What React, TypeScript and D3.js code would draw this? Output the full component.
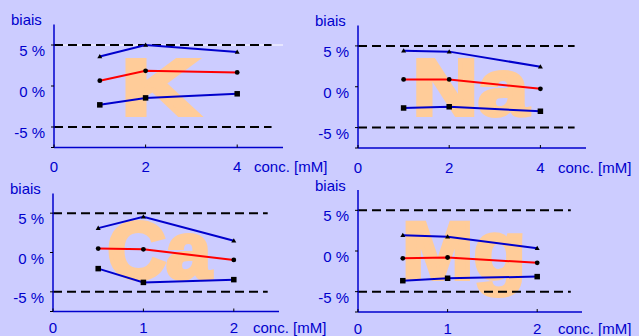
import React from "react";
import { scaleLinear, line } from "d3";

// concentrations (mM)
const concHigh = [1, 2, 4];
const concLow = [0.5, 1, 2];

// biais (%) : borne haute, moyenne, borne basse
const kUpper = [3.6, 5.0, 4.15];
const kMean = [0.65, 1.85, 1.65];
const kLower = [-2.3, -1.45, -0.95];

const naUpper = [4.4, 4.3, 2.45];
const naMean = [0.9, 0.9, -0.25];
const naLower = [-2.6, -2.45, -3.0];

const caUpper = [3.1, 4.55, 1.5];
const caMean = [0.5, 0.4, -0.95];
const caLower = [-2.05, -3.8, -3.45];

const mgUpper = [1.95, 1.75, 0.35];
const mgMean = [-0.9, -0.8, -1.45];
const mgLower = [-3.65, -3.35, -3.15];

const yTicks = [-5, 0, 5];
const limits = [-5, 5];
const xTicksHigh = [0, 2, 4];
const xTicksLow = [0, 1, 2];

const BG = "#CCCCFF";
const BLUE = "#0000CC";
const RED = "#FF0000";
const LETTER = "#FFCC99";
const FONT = "Liberation Sans, Arial, sans-serif";

type PanelProps = {
  ion: string;
  conc: number[];
  upper: number[];
  mean: number[];
  lower: number[];
  xMax: number;
  xTicks: number[];
  box: { left: number; right: number; top: number; bottom: number };
  labelDy: number;
  letterX: number;
  letterY: number;
  letterW: number;
  letterSize: number;
  whiteLine?: boolean;
};

const Panel = ({
  ion,
  conc,
  upper,
  mean,
  lower,
  xMax,
  xTicks,
  box,
  labelDy,
  letterX,
  letterY,
  letterW,
  letterSize,
  whiteLine,
}: PanelProps) => {
  const x = scaleLinear().domain([0, xMax]).range([box.left, box.right]);
  const y = scaleLinear().domain([-7.5, 7.5]).range([box.bottom, box.top]);

  const lineGen = line<number>()
    .x((d, i) => x(conc[i]))
    .y((d) => y(d));

  return (
    <g>
      {/* grosse lettre en fond (un peu épaissie par un contour) */}
      <text
        x={x(letterX)}
        y={y(letterY)}
        fontFamily={FONT}
        fontWeight="bold"
        fontSize={letterSize}
        fill={LETTER}
        stroke={LETTER}
        strokeWidth={4}
        textLength={letterW}
        lengthAdjust="spacingAndGlyphs"
      >
        {ion}
      </text>

      {/* limites +/- 5 % */}
      {whiteLine && (
        <line x1={x(0)} x2={x(xMax)} y1={y(5)} y2={y(5)} stroke="#ffffff" strokeWidth={1} />
      )}
      {limits.map((l) => (
        <line
          key={l}
          x1={x(0)}
          x2={x(xMax * 0.95)}
          y1={y(l)}
          y2={y(l)}
          stroke="#000"
          strokeWidth={2}
          strokeDasharray="9 5"
        />
      ))}

      {/* axes */}
      <line x1={x(0)} x2={x(0)} y1={y(7.5)} y2={y(-7.5)} stroke={BLUE} strokeWidth={1.5} />
      <line x1={x(0)} x2={x(xMax)} y1={y(-7.5)} y2={y(-7.5)} stroke={BLUE} strokeWidth={1.5} />
      {[...yTicks, -7.5].map((t) => (
        <line key={t} x1={x(0) - 3} x2={x(0)} y1={y(t)} y2={y(t)} stroke="#000" strokeWidth={1} />
      ))}
      {xTicks.map((t) => (
        <line key={t} x1={x(t)} x2={x(t)} y1={y(-7.5)} y2={y(-7.5) - 3} stroke="#000" strokeWidth={1} />
      ))}

      {/* textes */}
      <g fontFamily={FONT} fontSize={15} fill={BLUE}>
        <text x={x(0) - 43} y={y(7.5) + 0.5}>biais</text>
        {yTicks.map((t) => (
          <text key={t} x={x(0) - 9} y={y(t) + 11} textAnchor="end">
            {`${t} %`}
          </text>
        ))}
        {xTicks.map((t) => (
          <text key={t} x={x(t)} y={y(-7.5) + labelDy} textAnchor="middle">
            {t}
          </text>
        ))}
        <text x={x(0) + 200} y={y(-7.5) + labelDy}>conc. [mM]</text>
      </g>

      {/* séries */}
      <path d={lineGen(upper) || ""} fill="none" stroke={BLUE} strokeWidth={2} />
      <path d={lineGen(mean) || ""} fill="none" stroke={RED} strokeWidth={2} />
      <path d={lineGen(lower) || ""} fill="none" stroke={BLUE} strokeWidth={2} />

      {upper.map((v, i) => (
        <path
          key={"u" + i}
          d={`M${x(conc[i])},${y(v) - 2.5}L${x(conc[i]) + 2.5},${y(v) + 1.8}L${x(conc[i]) - 2.5},${y(v) + 1.8}Z`}
          fill="#000"
        />
      ))}
      {mean.map((v, i) => (
        <circle key={"m" + i} cx={x(conc[i])} cy={y(v)} r={2.4} fill="#000" />
      ))}
      {lower.map((v, i) => (
        <rect key={"l" + i} x={x(conc[i]) - 2.75} y={y(v) - 2.75} width={5.5} height={5.5} fill="#000" />
      ))}
    </g>
  );
};

export default function App() {
  return (
    <div style={{ position: "fixed", left: 0, top: 0 }}>
      <svg width={639} height={336} style={{ display: "block", background: BG }}>
        <rect width={639} height={336} fill={BG} />
        <Panel
          ion="K"
          conc={concHigh}
          upper={kUpper}
          mean={kMean}
          lower={kLower}
          xMax={5}
          xTicks={xTicksHigh}
          box={{ left: 54, right: 283, top: 24.5, bottom: 147.5 }}
          labelDy={24.5}
          letterX={1.465}
          letterY={-3.5}
          letterW={78}
          letterSize={80}
          whiteLine
        />
        <Panel
          ion="Na"
          conc={concHigh}
          upper={naUpper}
          mean={naMean}
          lower={naLower}
          xMax={5}
          xTicks={xTicksHigh}
          box={{ left: 358, right: 586, top: 25.5, bottom: 148 }}
          labelDy={24.5}
          letterX={1.195}
          letterY={-3.5}
          letterW={116}
          letterSize={79}
        />
        <Panel
          ion="Ca"
          conc={concLow}
          upper={caUpper}
          mean={caMean}
          lower={caLower}
          xMax={2.5}
          xTicks={xTicksLow}
          box={{ left: 53, right: 279, top: 193.5, bottom: 311.5 }}
          labelDy={21.5}
          letterX={0.6}
          letterY={-3.25}
          letterW={104}
          letterSize={79}
        />
        <Panel
          ion="Mg"
          conc={concLow}
          upper={mgUpper}
          mean={mgMean}
          lower={mgLower}
          xMax={2.5}
          xTicks={xTicksLow}
          box={{ left: 358, right: 582, top: 190, bottom: 312 }}
          labelDy={21.5}
          letterX={0.49}
          letterY={-3.45}
          letterW={124}
          letterSize={81}
        />
      </svg>
    </div>
  );
}
